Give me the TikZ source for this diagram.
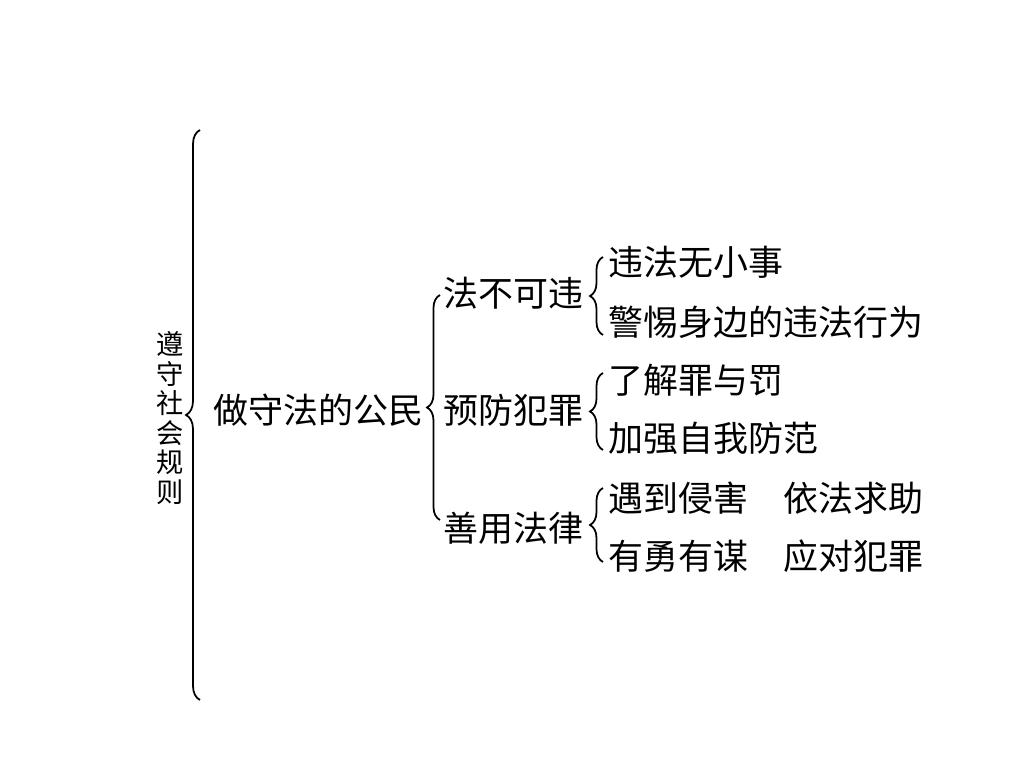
\documentclass[tikz,border=0pt]{standalone}
\usepackage{fontspec}
\newfontfamily\cjk{Noto Sans CJK SC}
\usetikzlibrary{positioning, calc, decorations.pathreplacing}

\tikzset{
    txt/.style={anchor=west, inner sep=0pt, font=\cjk\fontsize{19.9}{23}\selectfont},
    brc/.style={draw, line width=1pt, decorate,
        decoration={brace, amplitude=#1}},
    brc/.default=0.26cm
}

\begin{document}
\begin{tikzpicture}
    \useasboundingbox[fill=white] (0,0) rectangle (20.48,15.36);
        % vertical title and root
        \node[inner sep=0pt, align=center,
            font=\cjk\fontsize{15.5}{16.8}\selectfont] (title) at (3.4,7.0)
            {遵\\守\\社\\会\\规\\则};
        \node[txt] (root) at (4.26,7.16) {做守法的公民};
        % second level
        \node[txt] (law) at (8.86,9.5) {法不可违};
        \node[txt] (prev) at (8.86,7.16) {预防犯罪};
        \node[txt] (use) at (8.86,4.8) {善用法律};
        % leaves
        \node[txt] (l1) at (12.16,10.12) {违法无小事};
        \node[txt] (l2) at (12.16,8.92) {警惕身边的违法行为};
        \node[txt] (l3) at (12.16,7.76) {了解罪与罚};
        \node[txt] (l4) at (12.16,6.6) {加强自我防范};
        \node[txt] (l5) at (12.16,5.4) {遇到侵害\hspace{1em}依法求助};
        \node[txt] (l6) at (12.16,4.24) {有勇有谋\hspace{1em}应对犯罪};
        % braces
        \draw[brc=0.28cm] ($(root.west)+(-0.26,-5.8)$) -- ($(root.west)+(-0.26,5.6)$);
        \draw[brc] ($(use.west)+(-0.06,0.16)$) -- ($(law.west)+(-0.06,-0.04)$);
        \draw[brc] ($(l2.west)+(-0.1,-0.26)$) -- ($(l1.west)+(-0.1,0.1)$);
        \draw[brc] ($(l4.west)+(-0.1,-0.24)$) -- ($(l3.west)+(-0.1,0.14)$);
        \draw[brc] ($(l6.west)+(-0.1,-0.12)$) -- ($(l5.west)+(-0.1,0.2)$);
    \end{tikzpicture}
\end{document}
